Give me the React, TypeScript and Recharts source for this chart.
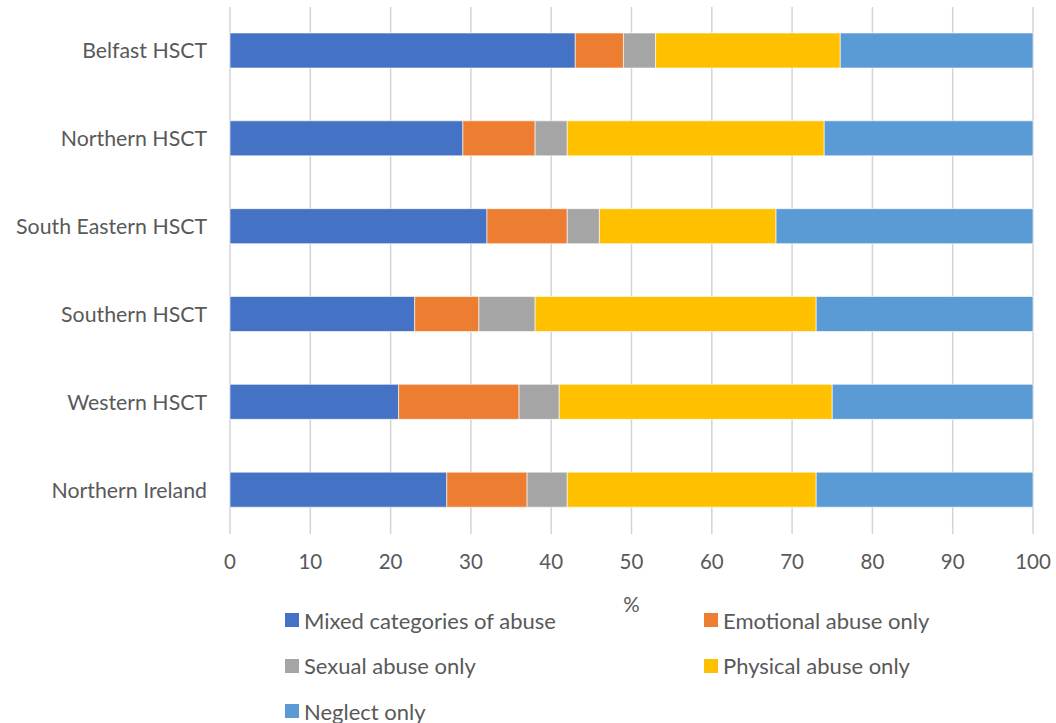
import { Bar, BarChart, CartesianGrid, XAxis, YAxis } from "recharts"

const regions = [
  "Belfast HSCT",
  "Northern HSCT",
  "South Eastern HSCT",
  "Southern HSCT",
  "Western HSCT",
  "Northern Ireland",
]
const seriesNames = [
  "Mixed categories of abuse",
  "Emotional abuse only",
  "Sexual abuse only",
  "Physical abuse only",
  "Neglect only",
]
const seriesColors = ["#4472C4", "#ED7D31", "#A5A5A5", "#FFC000", "#5B9BD5"]

const mixed = [43, 29, 32, 23, 21, 27]
const emotional = [6, 9, 10, 8, 15, 10]
const sexual = [4, 4, 4, 7, 5, 5]
const physical = [23, 32, 22, 35, 34, 31]
const neglect = [24, 26, 32, 27, 25, 27]

const xTicks = [0, 10, 20, 30, 40, 50, 60, 70, 80, 90, 100]

const seriesValues = [mixed, emotional, sexual, physical, neglect]
const keys = ["s0", "s1", "s2", "s3", "s4"]

const data = regions.map((name, i) => {
  const row: Record<string, string | number> = { name }
  seriesValues.forEach((values, s) => {
    row[keys[s]] = values[i]
  })
  return row
})

const font = "Lato, 'Open Sans', sans-serif"
const textColor = "#595959"

export default function App() {
  return (
    <div style={{ position: "absolute", left: 0, top: 0, width: 1056, height: 723, background: "#fff", fontFamily: font }}>
      <BarChart
        width={1056}
        height={723}
        data={data}
        layout="vertical"
        margin={{ top: 7, right: 23, bottom: 111, left: 0 }}
      >
        <CartesianGrid horizontal={false} stroke="#d4d4d4" strokeWidth={1.5} />
        <XAxis
          type="number"
          domain={[0, 100]}
          ticks={xTicks}
          height={78}
          axisLine={false}
          tickLine={false}
          tickSize={6}
          tickMargin={14}
          tick={{ fontSize: 20.5, fill: textColor, fontFamily: font }}
          label={{ value: "%", position: "insideBottom", offset: 0, fontSize: 20.5, fill: textColor, fontFamily: font }}
        />
        <YAxis
          type="category"
          dataKey="name"
          width={230}
          axisLine={false}
          tickLine={false}
          tickSize={6}
          tickMargin={17}
          tick={{ fontSize: 21.3, fill: textColor, fontFamily: font }}
        />
        {keys.map((key, s) => (
          <Bar
            key={key}
            dataKey={key}
            name={seriesNames[s]}
            stackId="a"
            fill={seriesColors[s]}
            stroke="#ffffff"
            strokeWidth={0.6}
            barSize={35}
            isAnimationActive={false}
          />
        ))}
      </BarChart>
      {seriesNames.map((name, s) => (
        <div
          key={name}
          style={{
            position: "absolute",
            left: s % 2 === 0 ? 285 : 704,
            top: 620 + Math.floor(s / 2) * 45.5 - 14,
            height: 28,
            display: "flex",
            alignItems: "center",
            fontSize: 22,
            color: textColor,
            whiteSpace: "nowrap",
          }}
        >
          <span style={{ display: "inline-block", width: 14, height: 14, background: seriesColors[s], marginRight: 5 }} />
          {name}
        </div>
      ))}
    </div>
  )
}
